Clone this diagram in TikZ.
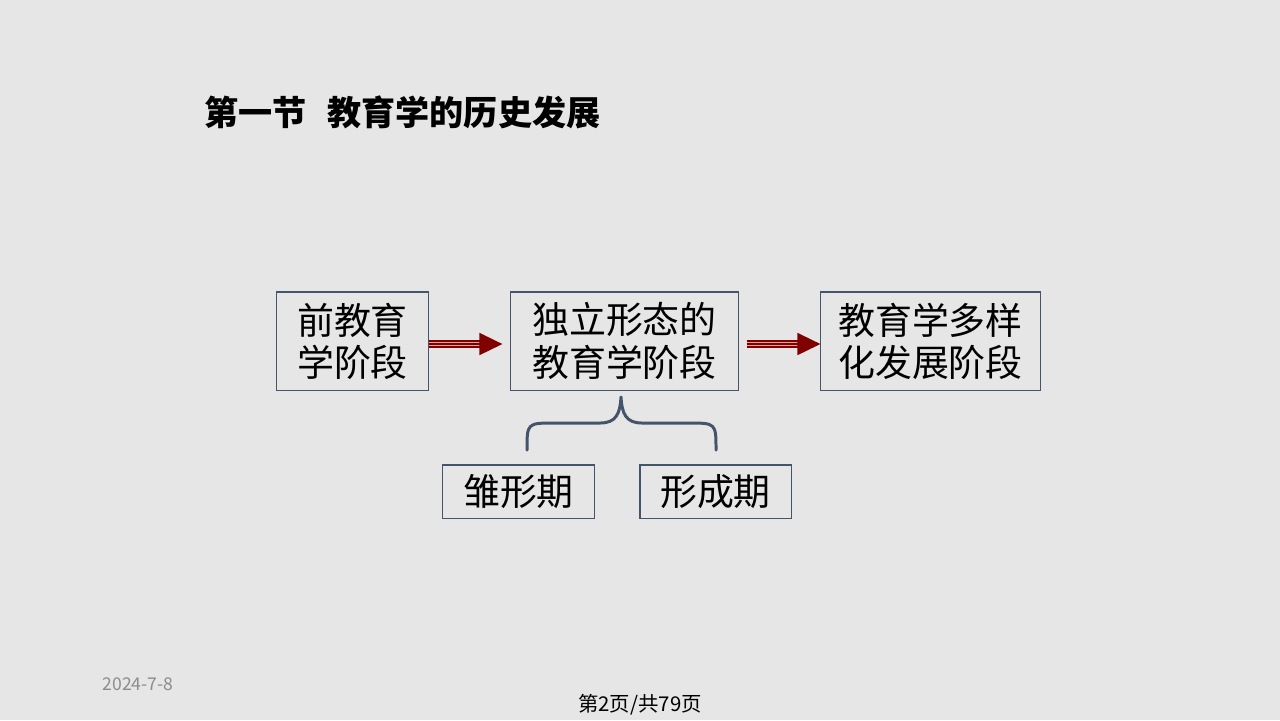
\documentclass[tikz,border=0pt]{standalone}
\usepackage{fontspec}
\setmainfont{Noto Sans CJK SC}
\usepackage{tikz}
\usetikzlibrary{arrows.meta}

\definecolor{bgcolor}{RGB}{230,230,230}
\definecolor{boxline}{RGB}{68,84,106}
\definecolor{arrowred}{RGB}{128,0,0}
\definecolor{arrowpink}{RGB}{225,160,160}
\definecolor{dategray}{RGB}{140,140,140}

\begin{document}
\begin{tikzpicture}[x=0.01cm, y=-0.01cm,
  stage/.style={rectangle, draw=boxline, line width=0.3pt, fill=bgcolor, inner sep=0pt, align=center, font=\fontsize{10.5}{12}\selectfont, minimum height=0.98cm},
  period/.style={stage, minimum width=1.51cm, minimum height=0.53cm},
  redarrow/.style={draw=arrowred, line width=0.45pt, -{Triangle[length=0.23cm,width=0.22cm]},
    preaction={draw=arrowred, double=arrowpink, double distance=1.35pt, line width=0.45pt, -, shorten >=#1}}]
\useasboundingbox (0,0) rectangle (1280,720);
\fill[bgcolor] (0,0) rectangle (1280,720);

\node [anchor=west, inner sep=0pt, font=\fontsize{9.7}{12}\selectfont\bfseries] (title) at (204,112) {第一节\hspace{0.6em}教育学的历史发展};

\node [stage, minimum width=1.51cm] (prestage) at (352.5,341) {前教育\\学阶段};
\node [stage, minimum width=2.27cm] (indstage) at (624.5,341) {独立形态的\\教育学阶段};
\node [stage, minimum width=2.19cm] (divstage) at (930.5,341) {教育学多样\\化发展阶段};
\node [period] (embryo) at (518.5,491.5) {雏形期};
\node [period] (formation) at (715.5,491.5) {形成期};

\draw [redarrow=0.29cm, shorten >=0.08cm] ([yshift=-0.03cm]prestage.east) -- ([yshift=-0.03cm]indstage.west);
\draw [redarrow=0.22cm, shorten <=0.08cm] ([yshift=-0.03cm]indstage.east) -- ([yshift=-0.03cm]divstage.west);

% brace under the middle stage
\draw [boxline, line width=0.85pt, line cap=round, line join=round] (527,450) .. controls (527,423) .. (555,423) -- (600,423) .. controls (616,423) and (620,414) .. (621,397) .. controls (622,414) and (626,423) .. (642,423) -- (688,423) .. controls (716,423) .. (716,450);

\node [anchor=west, inner sep=0pt, text=dategray, font=\fontsize{5}{6}\selectfont] (date) at (102,684) {2024-7-8};
\node [font=\fontsize{5.8}{7}\selectfont] (page) at (640,705) {第2页/共79页};
\end{tikzpicture}
\end{document}
